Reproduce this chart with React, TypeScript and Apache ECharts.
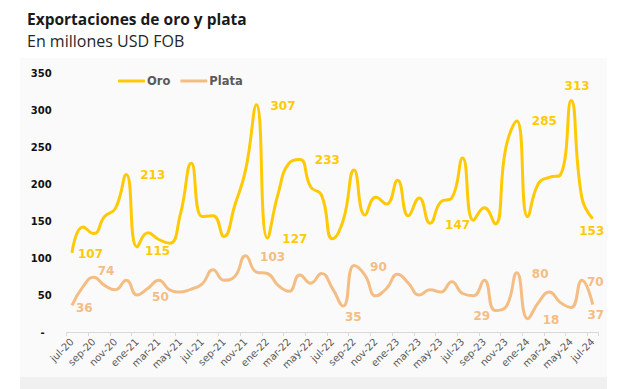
import React, { useEffect, useRef } from "react";
import * as echarts from "echarts";

const months = [
  "jul-20","ago-20","sep-20","oct-20","nov-20","dic-20",
  "ene-21","feb-21","mar-21","abr-21","may-21","jun-21","jul-21","ago-21","sep-21","oct-21","nov-21","dic-21",
  "ene-22","feb-22","mar-22","abr-22","may-22","jun-22","jul-22","ago-22","sep-22","oct-22","nov-22","dic-22",
  "ene-23","feb-23","mar-23","abr-23","may-23","jun-23","jul-23","ago-23","sep-23","oct-23","nov-23","dic-23",
  "ene-24","feb-24","mar-24","abr-24","may-24","jun-24","jul-24",
];

const oro = [
  107, 142, 133, 156, 167, 213,
  115, 134, 125, 120, 160, 228, 156, 157, 129, 171, 219, 307,
  127, 187, 228, 233, 196, 185, 126, 151, 219, 158, 182, 173,
  205, 157, 181, 147, 176, 181, 235, 151, 168, 146, 250, 285,
  156, 201, 209, 212, 313, 181, 153,
];

const plata = [
  36, 61, 74, 63, 57, 70,
  50, 59, 70, 57, 54, 58, 65, 84, 70, 75, 103, 81,
  79, 63, 55, 77, 66, 79, 59, 35, 90, 77, 49, 59,
  78, 66, 50, 57, 54, 68, 52, 49, 70, 29, 34, 80,
  18, 40, 54, 40, 33, 70, 37,
];

const yTicks = [0, 50, 100, 150, 200, 250, 300, 350];

const GOLD = "#FFCA05";
const SILVER = "#F4BD84";

type LabelPos = { position: string; distance: number; offset: [number, number] };

const oroLabels: Record<number, LabelPos> = {
  0: { position: "right", distance: 6, offset: [0, 1] },
  5: { position: "right", distance: 14, offset: [0, 1] },
  6: { position: "right", distance: 8, offset: [0, 4] },
  17: { position: "right", distance: 14, offset: [0, 1] },
  18: { position: "right", distance: 15, offset: [0, 1] },
  21: { position: "right", distance: 15, offset: [0, 0] },
  33: { position: "right", distance: 15, offset: [0, 2] },
  41: { position: "right", distance: 15, offset: [0, 0] },
  46: { position: "top", distance: 8, offset: [6, 0] },
  48: { position: "bottom", distance: 6, offset: [-1, 0] },
};

const plataLabels: Record<number, LabelPos> = {
  0: { position: "right", distance: 4, offset: [0, 2.5] },
  2: { position: "right", distance: 4, offset: [0, -6.5] },
  6: { position: "right", distance: 15, offset: [0, 2] },
  16: { position: "right", distance: 14.5, offset: [0, 1] },
  25: { position: "bottom", distance: 5, offset: [10, 0] },
  26: { position: "right", distance: 16, offset: [0, 2] },
  39: { position: "left", distance: 5, offset: [0, 5] },
  41: { position: "right", distance: 15, offset: [0, 1.5] },
  42: { position: "right", distance: 15, offset: [0, 1] },
  47: { position: "right", distance: 5, offset: [0, 1.5] },
  48: { position: "bottom", distance: 4.5, offset: [3, 0] },
};

function buildData(values: number[], labels: Record<number, LabelPos>) {
  return values.map((v, i) => {
    const l = labels[i];
    if (!l) return v;
    return {
      value: v,
      label: { show: true, position: l.position, distance: l.distance, offset: l.offset },
    };
  });
}

export default function App() {
  const ref = useRef<HTMLDivElement>(null);
  useEffect(() => {
    if (!ref.current) return;
    const chart = echarts.init(ref.current, undefined, { renderer: "svg" });
    const labelFont = { fontFamily: "DejaVu Sans", fontWeight: "bold" as const, fontSize: 12 };
    chart.setOption({
      animation: false,
      backgroundColor: "#ffffff",
      graphic: [
        { type: "rect", z: -10, silent: true, shape: { x: 20, y: 58, width: 587, height: 319 }, style: { fill: "#FAFAFA" } },
        { type: "rect", z: -10, silent: true, shape: { x: 20, y: 377, width: 587, height: 12 }, style: { fill: "#F0F0F0" } },
        {
          type: "text", x: 27, y: 19, silent: true,
          style: { text: "Exportaciones de oro y plata", fontFamily: "Open Sans", fontWeight: "bold", fontSize: 15.5, fill: "#1a1a1a", align: "left", verticalAlign: "middle" },
        },
        {
          type: "text", x: 27, y: 41, silent: true,
          style: { text: "En millones USD FOB", fontFamily: "Open Sans", fontWeight: "normal", fontSize: 16, fill: "#262626", align: "left", verticalAlign: "middle" },
        },
      ],
      legend: {
        data: ["Oro", "Plata"],
        left: 113,
        top: 70,
        icon: "roundRect",
        itemWidth: 27,
        itemHeight: 3,
        itemGap: 10,
        selectedMode: false,
        textStyle: { fontFamily: "DejaVu Sans", fontWeight: "bold", fontSize: 11.5, color: "#595959", padding: [0, 0, 0, -3] },
      },
      grid: { left: 66.6, right: 32.8, top: 73, bottom: 57, containLabel: false },
      xAxis: {
        type: "category",
        data: months,
        boundaryGap: true,
        axisLine: { show: true, lineStyle: { color: "#D9D9D9", width: 1 } },
        axisTick: { show: true, interval: 1, length: 4, lineStyle: { color: "#D9D9D9" } },
        axisLabel: { interval: 1, rotate: 45, fontSize: 10, fontFamily: "DejaVu Sans", color: "#595959", margin: 8 },
        splitLine: { show: false },
      },
      yAxis: {
        type: "value",
        min: yTicks[0],
        max: yTicks[yTicks.length - 1],
        interval: 50,
        splitLine: { show: false },
        axisLine: { show: false },
        axisTick: { show: false },
        axisLabel: {
          margin: 15,
          fontSize: 10,
          fontWeight: "bold",
          fontFamily: "DejaVu Sans",
          color: "#111111",
          formatter: (v: number) => (v === 0 ? "{z|-}" : String(v)),
          rich: { z: { fontSize: 10, fontWeight: "bold", fontFamily: "DejaVu Sans", color: "#111111", padding: [0, 7, 0, 0] } },
        },
      },
      series: [
        {
          name: "Oro",
          type: "line",
          smooth: 0.5,
          symbol: "circle",
          symbolSize: 0,
          showSymbol: true,
          color: GOLD,
          lineStyle: { color: GOLD, width: 3 },
          itemStyle: { color: GOLD },
          emphasis: { disabled: true },
          label: { show: false, color: GOLD, formatter: "{c}", ...labelFont },
          data: buildData(oro, oroLabels),
        },
        {
          name: "Plata",
          type: "line",
          smooth: 0.5,
          symbol: "circle",
          symbolSize: 0,
          showSymbol: true,
          color: SILVER,
          lineStyle: { color: SILVER, width: 3 },
          itemStyle: { color: SILVER },
          emphasis: { disabled: true },
          label: { show: false, color: SILVER, formatter: "{c}", ...labelFont },
          data: buildData(plata, plataLabels),
        },
      ],
    });
    return () => chart.dispose();
  }, []);
  return <div ref={ref} style={{ position: "fixed", left: 0, top: 0, width: 631, height: 389 }} />;
}
